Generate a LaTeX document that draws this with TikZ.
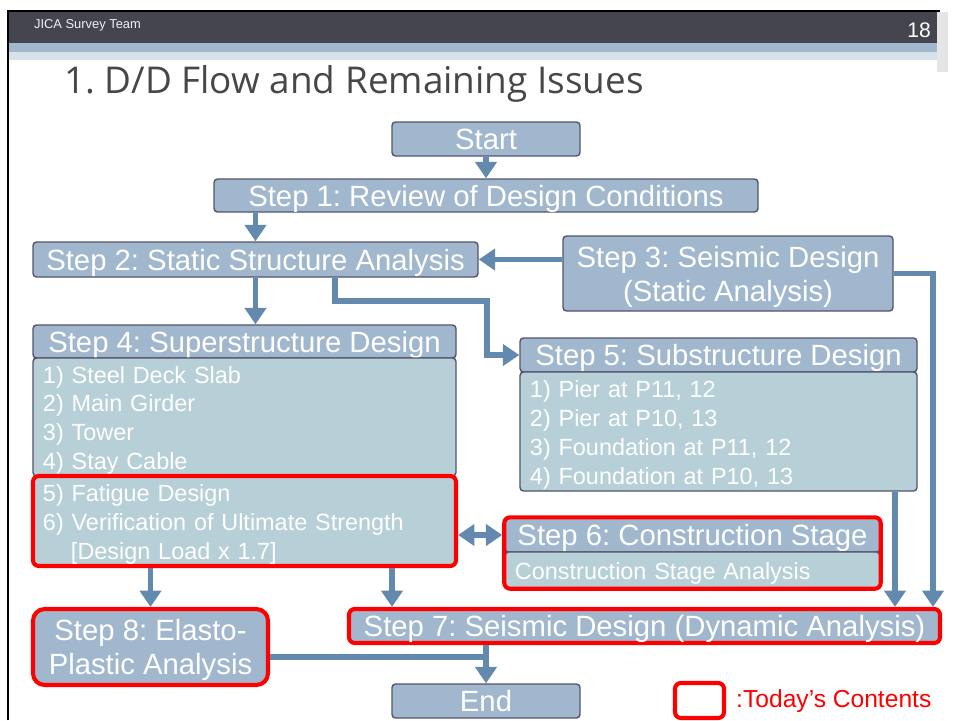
\documentclass[tikz,border=0pt]{standalone}
\usepackage{fontspec}
\setmainfont{Liberation Sans}
\newfontfamily\titlefont{Open Sans}
\usetikzlibrary{arrows.meta,fit}

\definecolor{headblue}{HTML}{A0B7CD}
\definecolor{bodyblue}{HTML}{B7CFD6}
\definecolor{edgegray}{HTML}{54546E}
\definecolor{arrowblue}{HTML}{6489AE}
\definecolor{bardark}{HTML}{45454F}
\newcommand\pxu{0.03cm}

\tikzset{
  stepbox/.style={draw=edgegray, line width=1.2pt, fill=headblue, rounded corners=3pt,
    text=white, font=\fontsize{25}{29}\selectfont, inner sep=0pt, text depth=0pt, align=center},
  itembox/.style={draw=edgegray, line width=1.2pt, fill=bodyblue, rounded corners=3pt,
    text=white, font=\fontsize{20}{24.6}\selectfont, inner xsep=0.3cm, inner ysep=0pt, align=left,
    execute at begin node=\rule{0pt}{20pt}},
  today/.style={draw=red, line width=3.5pt, rounded corners=5pt},
  flow/.style={draw=arrowblue, line width=5pt, -{Triangle[width=18pt,length=14pt]}},
  flowline/.style={draw=arrowblue, line width=5pt},
}

\begin{document}
\frenchspacing
\begin{tikzpicture}[x=\pxu, y=-\pxu]
      \useasboundingbox (0,0) rectangle (955,720);
      % slide frame
      \fill[bardark] (9,12) rectangle (940,43);
      \fill[headblue] (9,43) rectangle (948,52);
      \fill[headblue!40] (9,52) rectangle (940,60);
      \fill[gray!20] (937,12) rectangle (948,72);
      \draw[black, line width=2.2pt] (8,720) -- (8,11) -- (940,11);
      \node[anchor=west, text=white!80!headblue, font=\fontsize{11}{13}\selectfont] (team) at (30,25) {JICA Survey Team};
      \node[anchor=east, text=white, font=\fontsize{18}{20}\selectfont] (page) at (935,30) {18};
      \node[anchor=west, text=black!72, font=\titlefont\fontsize{31.5}{38}\selectfont] (title) at (60,84) {1. D/D Flow and Remaining Issues};

      % steps
      \node[stepbox, minimum width=188*\pxu, minimum height=34*\pxu] (start) at (486,139) {Start};
      \node[stepbox, minimum width=544*\pxu, minimum height=33*\pxu] (s1) at (486,195.5) {Step 1: Review of Design Conditions};
      \node[stepbox, minimum width=445*\pxu, minimum height=35*\pxu] (s2) at (255.5,259.5) {Step 2: Static Structure Analysis};
      \node[stepbox, minimum width=330*\pxu, minimum height=75*\pxu] (s3) at (728,273.5) {Step 3: Seismic Design\\(Static Analysis)};
      \node[stepbox, minimum width=423*\pxu, minimum height=33*\pxu] (s4head) at (244.5,341.5) {Step 4: Superstructure Design};
      \node[itembox, text width=12.09cm, minimum height=118*\pxu] (s4top) at (244.5,417)
        {1) Steel Deck Slab\\2) Main Girder\\3) Tower\\4) Stay Cable};
      \node[itembox, today, text width=12.09cm, minimum height=90*\pxu] (s4bot) at (244.5,521)
        {5) Fatigue Design\\6) Verification of Ultimate Strength\\\hspace*{0.84cm}[Design Load x 1.7]};
      \node[stepbox, minimum width=397*\pxu, minimum height=34*\pxu] (s5head) at (718.5,355) {Step 5: Substructure Design};
      \node[itembox, text width=11.31cm, minimum height=119*\pxu] (s5body) at (718.5,431.5)
        {1) Pier at P11, 12\\2) Pier at P10, 13\\3) Foundation at P11, 12\\4) Foundation at P10, 13};
      \node[stepbox, minimum width=375*\pxu, minimum height=34*\pxu] (s6head) at (692.5,535) {Step 6: Construction Stage};
      \node[itembox, text width=10.65cm, minimum height=36*\pxu] (s6body) at (692.5,570) {Construction Stage Analysis};
      \node[today, fit=(s6head)(s6body), inner sep=0pt] (s6) {};
      \node[stepbox, today, minimum width=591*\pxu, minimum height=34*\pxu] (s7) at (644.5,626) {Step 7: Seismic Design (Dynamic Analysis)};
      \node[stepbox, today, rounded corners=10pt, minimum width=235*\pxu, minimum height=76*\pxu] (s8) at (150.5,647) {Step 8: Elasto-\\Plastic Analysis};
      \node[stepbox, minimum width=188*\pxu, minimum height=34*\pxu] (end) at (486,701) {End};

      % legend
      \node[today, minimum width=49*\pxu, minimum height=35*\pxu] (legbox) at (699.5,700.5) {};
      \node[anchor=west, text=red, font=\fontsize{21}{24}\selectfont, inner sep=0pt] (legtext) at (736,701) {:Today’s Contents};

      % bend points
      \coordinate (b25) at (335,301);
      \coordinate (b25b) at (487,301);
      \coordinate (r3) at (933,0);
      \coordinate (r5) at (895,0);
      \coordinate (c7) at (392,0);
      \coordinate (j8) at (487,657);

      % connectors
      \draw[flow] (start) -- (s1);
      \draw[flow] (s1.south -| s2.north) -- (s2.north);
      \draw[flow] (s3.west |- s2.east) -- (s2.east);
      \draw[flow] (s2.south) -- (s2.south |- s4head.north);
      \draw[flow] (s2.south -| b25) -- (b25) -- (b25b) -- (b25b |- s5head.west) -- (s5head.west);
      \draw[flow] (s3.east) -- (r3 |- s3.east) -- (r3 |- s7.north);
      \draw[flow] (r5 |- s5body.south) -- (r5 |- s7.north);
      \draw[flowline, {Triangle[width=18pt,length=14pt]}-{Triangle[width=18pt,length=14pt]}]
        (s4bot.east |- s6head.west) -- (s6.west |- s6head.west);
      \draw[flow] (s4bot.south -| s8.north) -- (s8.north);
      \draw[flow] (s4bot.south -| c7) -- (c7 |- s7.north);
      \draw[flowline] (s8.east |- j8) -- (j8);
      \draw[flow] (s7.south -| end.north) -- (end.north);
\end{tikzpicture}
\end{document}
